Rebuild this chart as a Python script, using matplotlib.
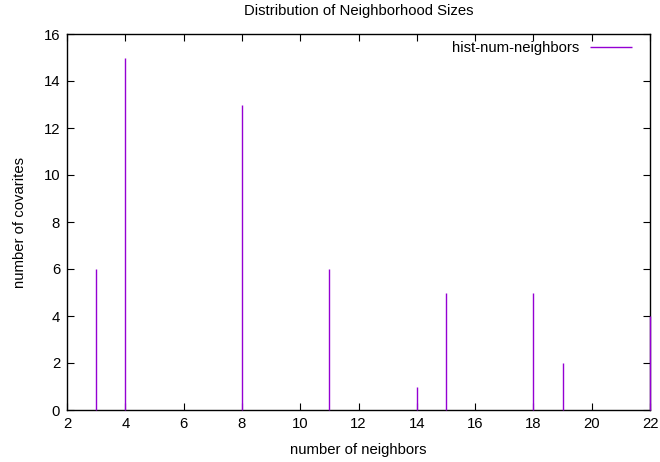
import matplotlib
matplotlib.use("Agg")
import matplotlib.pyplot as plt

plt.rcParams['font.family'] = ['Liberation Sans', 'DejaVu Sans']

neighbors = [3, 4, 8, 11, 14, 15, 18, 19, 22]
covariates = [6, 15, 13, 6, 1, 5, 5, 2, 4]
xticks = list(range(2, 23, 2))
yticks = list(range(0, 17, 2))

FS = 10.7

fig = plt.figure(figsize=(6.6, 4.62), dpi=100)
ax = fig.add_axes([67/660, 52/462, 583/660, 376/462])

ax.vlines(neighbors, 0, covariates, colors='#9400D3', linewidth=1.0,
          label='hist-num-neighbors', clip_on=False, zorder=3)

ax.set_xlim(2, 22)
ax.set_ylim(0, 16)
ax.set_xticks(xticks)
ax.set_yticks(yticks)
ax.tick_params(direction='in', top=True, right=True, length=5, width=0.8,
               labelsize=FS, pad=5)
for s in ax.spines.values():
    s.set_linewidth(1.0)

ax.set_xlabel('number of neighbors', fontsize=FS, labelpad=9)
ax.set_ylabel('number of covarites', fontsize=FS, labelpad=12)
ax.set_title('Distribution of Neighborhood Sizes', fontsize=FS, pad=14)

ax.legend(loc='upper right', frameon=False, markerfirst=False, fontsize=FS,
          handlelength=2.8, handletextpad=0.75, borderaxespad=0,
          borderpad=0, bbox_to_anchor=(632/660, 1 - 41/462),
          bbox_transform=fig.transFigure)

fig.savefig('out.png', dpi=100)
